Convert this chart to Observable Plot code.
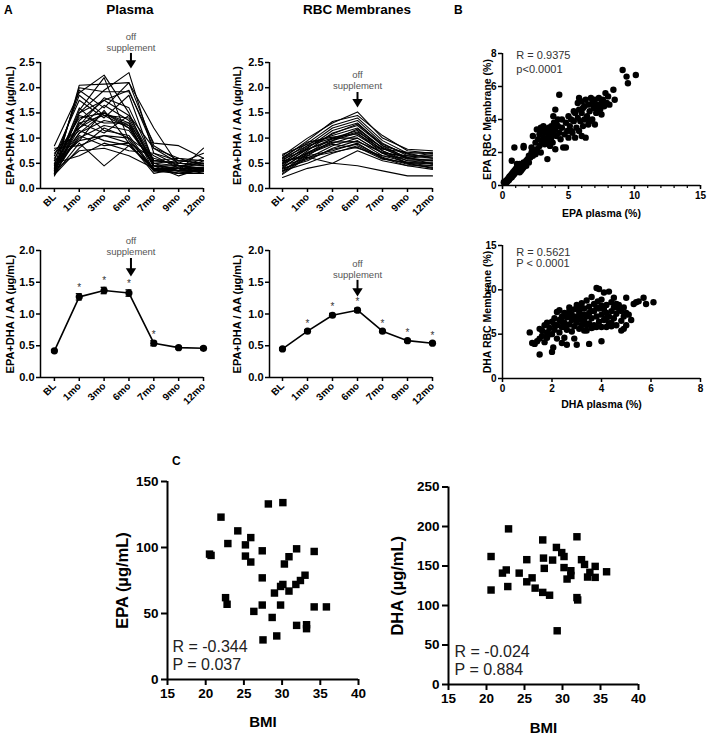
<!DOCTYPE html>
<html><head><meta charset="utf-8">
<script src="https://cdn.jsdelivr.net/npm/d3@7"></script>
<script src="https://cdn.jsdelivr.net/npm/@observablehq/plot@0.6"></script>
<style>
body{margin:0;background:#fff;}
#fig{position:relative;width:708px;height:735px;background:#fff;font-family:"Liberation Sans",Arial,Helvetica,sans-serif;color:#000;}
.lbl{position:absolute;font-weight:bold;white-space:nowrap;}
</style></head><body>
<div id="fig">
  <div class="lbl" style="left:4px;top:3px;font-size:12px">A</div>
  <div class="lbl" style="left:80px;top:2px;width:100px;text-align:center;font-size:13.5px">Plasma</div>
  <div class="lbl" style="left:287px;top:2px;width:140px;text-align:center;font-size:13.5px">RBC Membranes</div>
  <div class="lbl" style="left:454px;top:3px;font-size:12px">B</div>
  <div class="lbl" style="left:172px;top:454px;font-size:12px">C</div>
</div>
<script>
// ---------------- DATA ----------------
const timepoints = ["BL","1mo","3mo","6mo","7mo","9mo","12mo"];

// individual subjects, EPA+DHA/AA in plasma (BL,1,3,6,7,9,12 mo)
const plasmaSubjects = [
  [0.30,2.05,2.07,2.10,0.85,0.55,0.50],
  [0.35,2.00,1.92,1.92,0.90,0.85,0.60],
  [0.45,1.95,1.60,2.10,1.20,0.45,0.40],
  [0.85,1.90,2.25,1.50,0.40,0.35,0.35],
  [0.55,1.85,1.45,1.20,0.45,0.40,0.38],
  [0.40,1.55,2.20,0.95,0.40,0.30,0.35],
  [0.30,1.50,1.95,2.30,0.70,0.45,0.40],
  [0.60,1.40,1.50,1.25,0.45,0.45,0.45],
  [0.25,1.30,1.45,1.40,0.50,0.35,0.35],
  [0.50,1.25,1.80,1.60,0.55,0.50,0.45],
  [0.35,1.20,1.50,1.30,0.35,0.30,0.30],
  [0.70,1.15,0.95,0.85,0.40,0.40,0.40],
  [0.45,1.10,1.35,1.25,0.45,0.35,0.55],
  [0.30,1.05,0.85,0.90,0.60,0.45,0.35],
  [0.40,1.00,1.25,1.15,0.50,0.55,0.50],
  [0.55,0.95,1.55,0.90,0.35,0.40,0.35],
  [0.28,0.90,0.45,0.85,0.40,0.35,0.80],
  [0.80,0.85,1.05,1.00,0.65,0.40,0.60],
  [0.35,0.75,0.80,0.65,0.40,0.30,0.40],
  [0.50,0.65,0.90,0.75,0.70,0.55,0.55],
  [0.32,1.35,1.75,1.95,0.80,0.50,0.70],
  [0.42,1.45,1.30,1.30,0.55,0.60,0.45],
  [0.38,1.60,1.15,1.05,0.38,0.35,0.35],
  [0.65,1.75,1.40,1.85,0.50,0.45,0.50],
  [0.30,1.10,1.50,1.20,0.45,0.25,0.40],
  [0.48,0.95,1.05,0.90,0.30,0.40,0.30],
  [0.36,1.50,1.75,1.45,0.55,0.50,0.48],
  [0.27,0.80,1.20,1.00,0.35,0.45,0.38],
  [0.75,1.20,1.65,1.35,0.45,0.40,0.42],
  [0.33,1.30,1.10,1.45,0.80,0.60,0.55]
];

// individual subjects, EPA+DHA/AA in RBC membranes
const rbcSubjects = [
  [0.65,1.00,1.30,1.52,1.00,0.78,0.75],
  [0.60,0.95,1.33,1.45,1.05,0.75,0.70],
  [0.55,0.90,1.25,1.40,0.95,0.70,0.72],
  [0.50,0.85,1.20,1.35,0.90,0.65,0.65],
  [0.45,0.80,1.15,1.30,0.85,0.70,0.60],
  [0.40,0.75,1.10,1.25,0.85,0.60,0.55],
  [0.68,0.88,1.05,1.20,0.80,0.60,0.65],
  [0.35,0.70,1.00,1.15,0.75,0.55,0.50],
  [0.30,0.65,0.95,1.10,0.70,0.55,0.55],
  [0.50,0.70,0.90,1.05,0.75,0.50,0.45],
  [0.45,0.60,0.85,1.00,0.70,0.50,0.50],
  [0.40,0.55,0.80,0.95,0.65,0.60,0.55],
  [0.55,0.65,0.75,0.90,0.60,0.45,0.45],
  [0.35,0.50,0.70,0.85,0.60,0.50,0.40],
  [0.22,0.40,0.50,0.75,0.55,0.45,0.38],
  [0.55,0.62,0.50,0.45,0.35,0.25,0.25],
  [0.60,0.85,1.00,1.00,0.70,0.65,0.60],
  [0.48,0.78,0.95,1.18,0.80,0.58,0.58],
  [0.33,0.68,0.88,0.80,0.65,0.52,0.52],
  [0.42,0.72,0.92,0.93,0.72,0.62,0.48],
  [0.52,0.82,1.08,1.28,0.88,0.68,0.62],
  [0.38,0.58,0.78,0.88,0.62,0.48,0.42],
  [0.62,0.92,1.02,1.08,0.78,0.72,0.68],
  [0.28,0.62,0.72,0.82,0.58,0.52,0.48],
  [0.58,0.78,0.98,1.12,0.82,0.62,0.70]
];

// group means ± SEM
const plasmaMean = [0.42,1.27,1.37,1.33,0.54,0.47,0.46];
const plasmaErr  = [0.02,0.05,0.05,0.05,0.04,0.02,0.02];
const plasmaSig  = [0,1,1,1,1,0,0];
const rbcMean    = [0.45,0.73,0.98,1.06,0.73,0.58,0.54];
const rbcErr     = [0.02,0.02,0.03,0.03,0.02,0.02,0.02];
const rbcSig     = [0,1,1,1,1,1,1];

// B: EPA plasma (%) vs EPA RBC membrane (%)
const epaPairs = [
 [0.1,0.2],[0.2,0.25],[0.3,0.3],[0.35,0.2],[0.4,0.4],[0.5,0.35],[0.5,0.5],[0.6,0.45],[0.6,0.6],[0.7,0.5],
 [0.7,0.7],[0.8,0.6],[0.8,0.8],[0.9,0.7],[0.9,0.9],[1.0,0.8],[1.0,1.0],[1.1,0.9],[1.1,1.1],[1.2,0.85],
 [1.2,1.2],[1.3,1.0],[1.3,1.3],[1.4,1.1],[1.4,0.9],[1.5,1.2],[1.5,1.0],[1.6,1.4],[1.6,1.1],[1.7,1.3],
 [1.8,1.5],[1.8,1.2],[1.9,1.6],[2.0,1.4],[2.0,1.8],[0.7,1.5],[0.9,2.3],[1.6,2.4],[1.6,2.3],[1.1,1.3],
 [1.3,0.8],[0.45,0.3],[0.55,0.55],[0.75,0.65],[0.85,0.75],[1.05,0.95],[1.25,1.15],
 [2.1,1.7],[2.2,2.0],[2.3,1.8],[2.4,2.1],[2.5,2.6],[2.5,1.9],[2.6,2.2],[2.6,3.4],[2.3,3.0],[2.7,2.8],
 [2.8,2.4],[2.8,3.1],[2.9,2.0],[3.0,2.6],[3.0,3.3],[3.1,2.9],[3.2,2.5],[3.2,3.2],[3.3,2.8],[3.3,3.4],
 [3.4,1.6],[3.4,2.7],[3.5,3.0],[3.5,3.5],[3.6,2.4],[3.6,3.2],[3.7,2.9],[3.7,3.6],[3.8,3.3],[3.8,2.6],
 [3.9,3.1],[3.9,3.8],[4.0,2.2],[4.0,3.4],[4.0,4.6],[4.1,3.0],[4.2,3.6],[4.3,5.5],[4.3,3.2],[4.4,2.8],
 [4.5,3.5],[4.5,4.0],[4.6,2.3],[4.7,3.1],[4.8,2.3],[4.8,3.8],[4.9,3.3],[5.0,4.2],[5.0,2.9],[3.85,4.2],
 [2.2,2.3],[2.9,3.5],[3.1,3.6],[4.1,3.7],[4.2,4.0],
 [5.1,3.6],[5.2,4.0],[5.3,3.2],[5.4,3.9],[5.5,4.4],[5.5,2.9],[5.6,3.5],[5.7,4.1],[5.7,5.0],[5.8,3.3],
 [5.8,4.6],[5.8,5.3],[5.9,3.9],[6.0,3.0],[6.0,4.4],[6.0,5.1],[6.1,3.6],[6.2,4.0],[6.2,4.8],[6.3,2.9],
 [6.3,5.2],[6.4,4.2],[6.5,3.7],[6.5,4.9],[6.6,4.5],[6.7,5.3],[6.8,4.0],[6.8,5.0],[6.9,4.7],[7.0,3.7],
 [7.0,5.2],[7.1,4.4],[7.2,4.9],[7.3,5.3],[7.4,4.6],[7.5,5.0],[7.5,4.3],[7.6,5.2],[7.7,4.8],[7.8,5.6],
 [7.9,5.0],[8.0,5.4],[8.1,4.9],[8.4,5.8],[8.5,5.2],[7.3,4.7],[6.1,4.7],[5.4,4.5],[5.2,3.3],[6.6,3.9],
 [9.1,7.0],[9.4,6.6],[9.5,6.2],[10.1,6.7]
];

// B: DHA plasma (%) vs DHA RBC membrane (%)
const dhaPairs = [
 [1.1,5.2],[1.2,4.0],[1.3,3.9],[1.5,2.7],[1.5,4.5],[1.5,5.6],[1.6,4.8],[1.6,5.4],[1.7,4.1],[1.7,6.0],
 [1.8,5.2],[1.8,6.3],[1.9,5.0],[1.9,5.7],[2.0,3.0],[2.0,6.4],[2.05,3.5],[2.1,5.5],[2.1,6.8],[2.2,4.5],
 [2.2,6.0],[2.2,7.5],[2.3,5.2],[2.3,6.6],[2.3,7.7],[2.4,4.0],[2.4,5.8],[2.4,7.0],[2.5,4.6],[2.5,6.3],
 [2.5,7.4],[2.6,3.8],[2.6,5.5],[2.6,6.9],[2.7,6.1],[2.7,7.6],[2.7,8.0],[2.8,5.3],[2.8,6.6],[2.8,7.2],
 [2.9,4.5],[2.9,5.9],[2.9,7.8],[3.0,3.8],[3.0,6.3],[3.0,7.0],[3.0,8.3],[3.1,5.6],[3.1,6.8],[3.1,7.5],
 [3.2,6.0],[3.2,7.2],[3.2,8.5],[3.3,5.4],[3.3,6.5],[3.3,7.9],[3.4,5.4],[3.4,7.0],[3.4,8.8],[3.5,3.9],
 [3.5,6.2],[3.5,7.4],[3.5,8.1],[3.6,5.7],[3.6,6.8],[3.6,9.2],[3.7,6.0],[3.7,7.6],[3.7,8.4],[3.8,5.8],
 [3.8,7.0],[3.8,10.2],[3.85,8.7],[3.9,6.4],[3.9,7.9],[3.9,10.1],[4.0,4.2],[4.0,5.8],[4.0,7.2],[4.0,8.9],
 [4.1,6.6],[4.1,7.8],[4.1,9.7],[4.2,5.8],[4.2,7.4],[4.2,8.3],[4.3,6.2],[4.3,7.0],[4.3,9.8],[4.4,5.9],
 [4.4,7.6],[4.4,8.6],[4.5,6.8],[4.5,8.0],[4.5,9.1],[4.6,6.0],[4.6,7.3],[4.7,7.9],[4.7,8.3],[4.8,5.4],
 [4.8,6.5],[4.8,7.6],[4.9,7.0],[4.9,8.0],[5.0,6.0],[5.0,7.4],[5.0,9.1],[5.1,7.2],[5.2,6.6],[5.3,8.4],
 [5.4,8.6],[5.5,8.7],[5.7,9.1],[5.8,8.4],[6.1,8.6],[1.4,4.2],[2.0,5.0],[2.4,6.4],[2.6,7.3],[2.8,7.0],
 [3.0,6.6],[3.2,6.6],[3.4,6.0],[3.6,7.6],[3.8,8.0],[4.0,8.2],[4.2,6.8],[4.6,8.4],[3.3,7.2],[2.9,6.7],
 [3.1,8.0],[2.5,5.8],[2.1,6.1],[1.8,4.6],[3.7,5.8],[4.9,5.6],[4.4,6.3]
];

// C: BMI vs EPA (µg/mL)
const bmiEpa = [28.2,30.1,22.0,24.2,22.9,25.9,25.2,20.5,20.7,25.2,25.9,27.4,27.4,31.9,30.9,30.3,34.2,22.6,22.8,26.3,27.4,29.0,29.8,30.1,30.9,31.8,32.4,33.0,28.7,29.8,31.9,33.2,33.2,34.2,35.8,27.5,29.3];
const epaUg  = [133,134,123,112.6,103,107.5,102,95,94,93.5,89,97.5,77,99,93,87.5,97,62,57,51.6,56.4,65.5,70.5,72,67,72,75,79,47,56.4,41,38.5,41.5,55,55,30,33];
// C: BMI vs DHA (µg/mL)
const bmiDha = [22.9,20.6,20.6,22.1,22.6,22.8,24.3,25.3,25.3,26.0,26.4,27.4,27.5,27.6,27.4,28.3,28.7,29.2,29.9,30.2,30.2,30.6,31.1,31.1,31.9,31.9,32.0,32.5,32.9,33.3,33.6,34.3,34.3,35.8,29.3];
const dhaUg  = [197,162,119.6,141,145,124,141,158,130,135,122,183,160,147,116.6,113,157.5,173.5,167,162,148,133.5,144,138,187,110,107,158,152,136,142,149.5,135.6,142.7,68];

const statsB = [["R = 0.9375","p<0.0001"],["R = 0.5621","P < 0.0001"]];
const statsC = [["R = -0.344","P = 0.037"],["R = -0.024","P = 0.884"]];

// ---------------- DRAWING ----------------
const FONT = '"Liberation Sans", Arial, Helvetica, sans-serif';
const fig = document.getElementById("fig");
function place(svg, left, top) {
  svg.style.position = "absolute";
  svg.style.left = left + "px";
  svg.style.top = top + "px";
  fig.appendChild(svg);
}
const baseStyle = {fontFamily: FONT, background: "transparent", overflow: "visible", color: "black"};

// downward filled arrow head, tip at the anchor point
const downTri = {draw(ctx, size) {
  const k = Math.sqrt(size / Math.PI);
  ctx.moveTo(0, 0); ctx.lineTo(-1.3 * k, -2.1 * k); ctx.lineTo(1.3 * k, -2.1 * k); ctx.closePath();
}};
function offMarks(a) {
  return [
    Plot.text(["off\nsupplement"], {x: () => a.x, y: () => a.text, dx: a.dx, lineAnchor: "bottom", textAnchor: "middle", fill: "#555", fontSize: 9.5, lineHeight: 1.15}),
    Plot.ruleX([a.x], {x: d => d, y1: () => a.start, y2: () => a.tip, dx: a.dx, strokeWidth: 2, stroke: "black", insetBottom: 5}),
    Plot.dot([a.x], {x: d => d, y: () => a.tip, dx: a.dx, symbol: downTri, r: 4, fill: "black", stroke: "none"})
  ];
}
const tf1 = d3.format(".1f");
const yTitleA = "EPA+DHA / AA (µg/mL)";

function yTitle(label, dx, size) {
  return Plot.text([label], {frameAnchor: "left", dx, rotate: -90, textAnchor: "middle", lineAnchor: "middle", fontSize: size, fontWeight: "bold"});
}
function xTitle(label, dy, size) {
  return Plot.text([label], {frameAnchor: "bottom", dy, textAnchor: "middle", lineAnchor: "middle", fontSize: size, fontWeight: "bold"});
}

function timeAxes(xdom, ydom, yticks, titleDx) {
  return [
    Plot.ruleY([ydom[0]], {strokeWidth: 1.5}),
    Plot.ruleX([xdom[0]], {strokeWidth: 1.5}),
    Plot.axisY({ticks: yticks, tickFormat: tf1, tickSize: 4, tickPadding: 2, strokeWidth: 1.5, fontSize: 11, fontWeight: "bold", label: null}),
    Plot.axisX({ticks: d3.range(timepoints.length), tickFormat: i => timepoints[i], tickSize: 4, tickPadding: 3, strokeWidth: 1.5, tickRotate: -45, textAnchor: "end", fontSize: 10, fontWeight: "bold", label: null}),
    yTitle(yTitleA, titleDx, 11)
  ];
}

function spaghetti(subjects, xdom, opts) {
  const long = subjects.flatMap((row, s) => row.map((v, i) => ({s, i, v})));
  return Plot.plot({
    width: opts.width, height: 200,
    marginLeft: opts.ml, marginRight: opts.mr, marginTop: 42, marginBottom: 32,
    x: {type: "linear", domain: xdom},
    y: {domain: [0, 2.5]},
    style: baseStyle,
    marks: [
      Plot.line(long, {x: "i", y: "v", z: "s", stroke: "black", strokeWidth: 1.1}),
      ...timeAxes(xdom, [0, 2.5], [0, 0.5, 1, 1.5, 2, 2.5], opts.titleDx),
      ...offMarks(opts.ann)
    ]
  });
}

function meanPlot(mean, err, sig, xdom, opts) {
  const rows = mean.map((m, i) => ({i, m, e: err[i], s: sig[i]}));
  return Plot.plot({
    width: opts.width, height: 205,
    marginLeft: opts.ml, marginRight: opts.mr, marginTop: 35, marginBottom: 43,
    x: {type: "linear", domain: xdom},
    y: {domain: [0, 2]},
    style: baseStyle,
    marks: [
      Plot.ruleX(rows, {x: "i", y1: d => d.m - d.e, y2: d => d.m + d.e, strokeWidth: 1.3}),
      Plot.ruleY(rows, {y: d => d.m + d.e, x1: d => d.i - 0.12, x2: d => d.i + 0.12, strokeWidth: 1.3}),
      Plot.ruleY(rows, {y: d => d.m - d.e, x1: d => d.i - 0.12, x2: d => d.i + 0.12, strokeWidth: 1.3}),
      Plot.line(rows, {x: "i", y: "m", stroke: "black", strokeWidth: 1.6}),
      Plot.dot(rows, {x: "i", y: "m", r: 3.6, fill: "black"}),
      Plot.text(rows.filter(d => d.s), {x: "i", y: d => d.m + d.e, text: () => "*", dy: -3, lineAnchor: "bottom", fontSize: 10, fill: "#333"}),
      ...timeAxes(xdom, [0, 2], [0, 0.5, 1, 1.5, 2], opts.titleDx),
      ...offMarks(opts.ann)
    ]
  });
}

const xdomPlasma = [-0.56, 6];
const xdomRbc = [-0.52, 6];

place(spaghetti(plasmaSubjects, xdomPlasma, {width: 220, ml: 40, mr: 17, titleDx: -30,
  ann: {x: 3, dx: 2, text: 2.73, start: 2.68, tip: 2.38}}), 0, 20);
place(spaghetti(rbcSubjects, xdomRbc, {width: 220, ml: 44, mr: 13, titleDx: -32,
  ann: {x: 3, dx: 0, text: 1.97, start: 1.905, tip: 1.607}}), 225, 20);
place(meanPlot(plasmaMean, plasmaErr, plasmaSig, xdomPlasma, {width: 220, ml: 40, mr: 17, titleDx: -30,
  ann: {x: 3, dx: 2, text: 1.93, start: 1.874, tip: 1.59}}), 0, 215);
place(meanPlot(rbcMean, rbcErr, rbcSig, xdomRbc, {width: 220, ml: 44, mr: 13, titleDx: -32,
  ann: {x: 3, dx: 0, text: 1.567, start: 1.53, tip: 1.275}}), 225, 215);

// ---- B scatter plots ----
function scatterB(pairs, o) {
  return Plot.plot({
    width: 238, height: 185,
    marginLeft: 32, marginRight: 8, marginTop: o.mt, marginBottom: o.mb,
    x: {domain: o.xdom}, y: {domain: o.ydom},
    style: baseStyle,
    marks: [
      Plot.dot(pairs, {x: d => d[0], y: d => d[1], r: 3.2, fill: "black"}),
      Plot.ruleY([o.ydom[0]], {strokeWidth: 1.5}),
      Plot.ruleX([o.xdom[0]], {strokeWidth: 1.5}),
      ...(o.minor ? [Plot.axisX({ticks: o.minor, tickSize: 3, tickFormat: () => "", strokeWidth: 1.2, label: null})] : []),
      Plot.axisX({ticks: o.xticks, tickSize: 4, tickPadding: 2, strokeWidth: 1.5, fontSize: 10, fontWeight: "bold", label: null}),
      Plot.axisY({ticks: o.yticks, tickSize: 4, tickPadding: 2, strokeWidth: 1.5, fontSize: 10, fontWeight: "bold", label: null}),
      xTitle(o.xtitle, o.xdy, 10.5),
      yTitle(o.ytitle, -15, 10.5),
      Plot.text(o.stats, {x: () => o.sx, y: (d, i) => o.sy[i], textAnchor: "start", fontSize: 11, fill: "#333"})
    ]
  });
}
place(scatterB(epaPairs, {mt: 13, mb: 40, xdom: [0, 15], ydom: [0, 8], xticks: [0, 5, 10, 15], minor: d3.range(0, 16),
  yticks: [0, 2, 4, 6, 8], xtitle: "EPA plasma (%)", ytitle: "EPA RBC Membrane (%)", xdy: 28,
  stats: statsB[0], sx: 1.05, sy: [7.88, 7.03]}), 470, 40);
place(scatterB(dhaPairs, {mt: 15, mb: 37, xdom: [0, 8], ydom: [0, 15], xticks: [0, 2, 4, 6, 8], minor: null,
  yticks: [0, 5, 10, 15], xtitle: "DHA plasma (%)", ytitle: "DHA RBC Membrane (%)", xdy: 26,
  stats: statsB[1], sx: 0.56, sy: [14.2, 12.95]}), 470, 230);

// ---- C scatter plots ----
function scatterC(xs, ys, o) {
  return Plot.plot({
    width: o.width, height: 265,
    marginLeft: o.ml, marginRight: o.mr, marginTop: o.mt, marginBottom: o.mb,
    x: {domain: [15, 40]}, y: {domain: o.ydom},
    style: baseStyle,
    marks: [
      Plot.dot(xs, {x: d => d, y: (d, i) => ys[i], symbol: "square", r: 4.2, fill: "black"}),
      Plot.ruleY([0], {strokeWidth: 2}),
      Plot.ruleX([15], {strokeWidth: 2}),
      Plot.axisX({ticks: [15, 20, 25, 30, 35, 40], tickSize: 6, tickPadding: 3, strokeWidth: 2, fontSize: 13.5, fontWeight: "bold", label: null}),
      Plot.axisY({ticks: o.yticks, tickSize: 6, tickPadding: 3, strokeWidth: 2, fontSize: 13.5, fontWeight: "bold", label: null}),
      xTitle("BMI", o.xdy, 15),
      yTitle(o.ytitle, o.ydx, 16.5),
      Plot.text(o.stats, {x: () => o.sx, y: (d, i) => o.sy[i], textAnchor: "start", fontSize: 16, fill: "#222"})
    ]
  });
}
place(scatterC(bmiEpa, epaUg, {width: 270, ml: 67, mr: 12, mt: 11, mb: 56, ydom: [0, 150], yticks: [0, 50, 100, 150],
  xdy: 43, ytitle: "EPA (µg/mL)", ydx: -45, stats: statsC[0], sx: 15.65, sy: [25, 11.4]}), 100, 470);
place(scatterC(bmiDha, dhaUg, {width: 300, ml: 88, mr: 22, mt: 16.5, mb: 51, ydom: [0, 250], yticks: [0, 50, 100, 150, 200, 250],
  xdy: 44, ytitle: "DHA (µg/mL)", ydx: -51, stats: statsC[1], sx: 15.8, sy: [41.8, 19]}), 360, 470);
</script>
</body></html>
